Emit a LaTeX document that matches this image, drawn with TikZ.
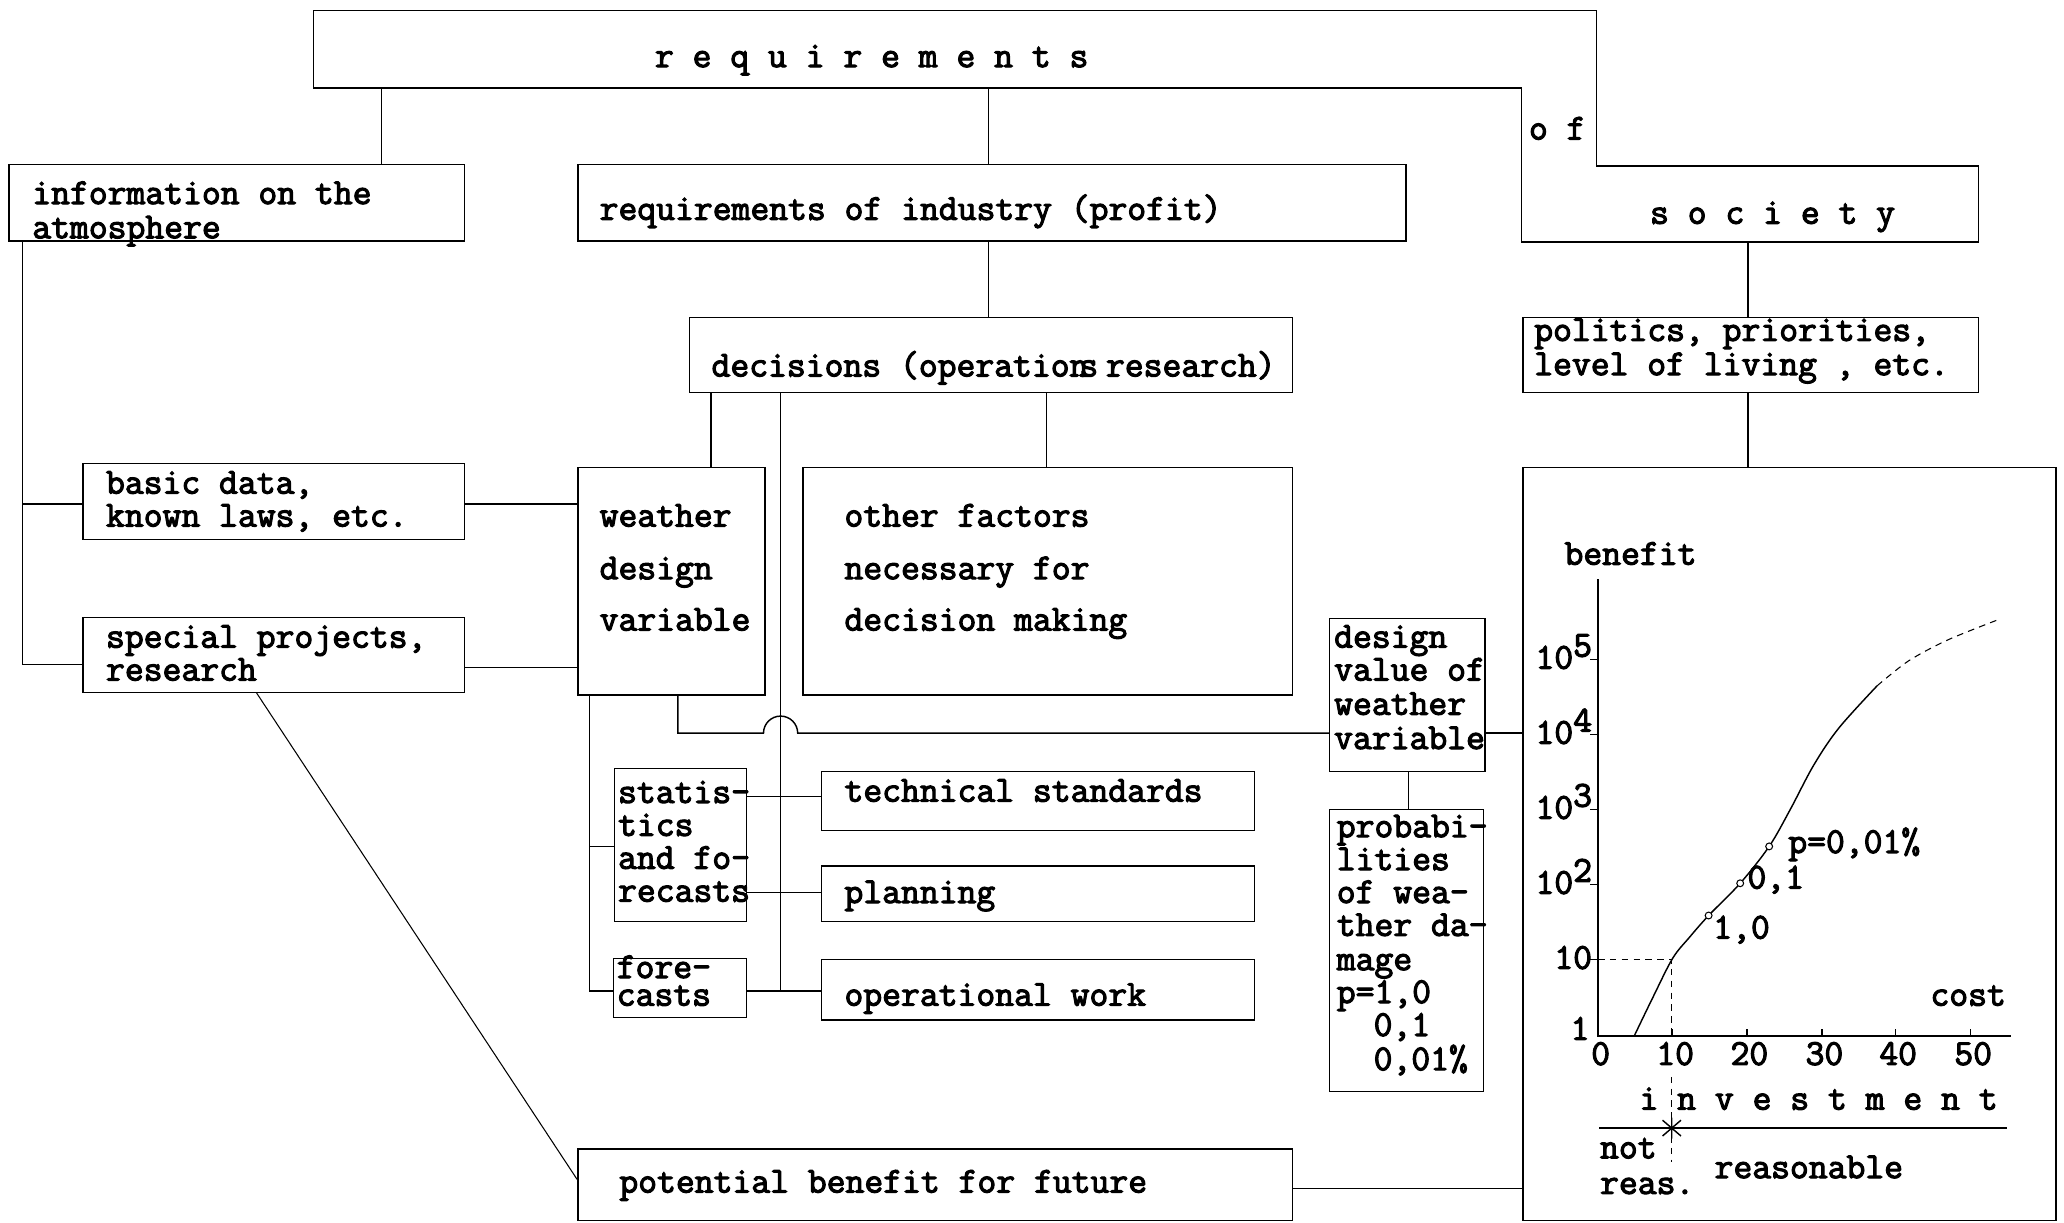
\documentclass[tikz,border=0pt]{standalone}
\usepackage{fontspec}
\newfontfamily\tw{Latin Modern Mono}[FakeBold=3]
\usetikzlibrary{fit}
\tikzset{
  box/.style={draw, inner sep=0pt},
  t/.style={anchor=base west, inner sep=0pt, font=\tw\fontsize{27.8}{25}\selectfont},
  tr/.style={t, anchor=base east},
  tc/.style={t, anchor=base},
  guide/.style={dash pattern=on 5pt off 4pt},
}
\begin{document}
\begin{tikzpicture}[x=1pt,y=-1pt,line width=1.1pt]
\useasboundingbox[fill=white] (0,0) rectangle (1568,929);

% requirements of society frame
\draw (238,8) -- (1213,8) -- (1213,126) -- (1503,126) -- (1503,184) -- (1156,184) -- (1156,67) -- (238,67) -- cycle;
\coordinate (reqband) at (238,67);
\coordinate (socbot) at (1156,184);
\node[t] (treq) at (497,51) {r e q u i r e m e n t s};
\node[t] (tof) at (1161,106) {o f};
\node[t] (tsoc) at (1253,170) {s o c i e t y};

% boxes
\node[box, fit={(7,125) (353,183)}] (info) {};
\node[box, fit={(439,125) (1068,183)}] (ind) {};
\node[box, fit={(524,241) (982,298)}] (dec) {};
\node[box, fit={(1157,241) (1503,298)}] (pol) {};
\node[box, fit={(63,352) (353,410)}] (basic) {};
\node[box, fit={(63,469) (353,526)}] (spec) {};
\node[box, fit={(439,355) (581,528)}] (wdv) {};
\node[box, fit={(610,355) (982,528)}] (oth) {};
\node[box, fit={(467,584) (567,700)}] (stat) {};
\node[box, fit={(466,728) (567,773)}] (fc) {};
\node[box, fit={(624,586) (953,631)}] (tech) {};
\node[box, fit={(624,658) (953,700)}] (plan) {};
\node[box, fit={(624,729) (953,775)}] (oper) {};
\node[box, fit={(1010,470) (1128,586)}] (dval) {};
\node[box, fit={(1010,615) (1127,829)}] (prob) {};
\node[box, fit={(439,873) (982,927)}] (pot) {};
\node[box, fit={(1157,355) (1562,927)}] (chart) {};

% texts
\node[t] (ti1) at (24,155) {information on the};
\node[t] (ti2) at (24,181) {atmosphere};
\node[t] (tind) at (455,167) {requirements of industry (profit)};
\node[t] (tdec) at (540,286) {decisions (operation\kern-.25em s\kern-.3em\ research)};
\node[t] (tp1) at (1165,259) {politics, priorities,};
\node[t] (tp2) at (1165,285) {level of living , etc.};
\node[t] (tb1) at (80,375) {basic data,};
\node[t] (tb2) at (80,400) {known laws, etc.};
\node[t] (ts1) at (80,492) {special projects,};
\node[t] (ts2) at (80,517) {research};
\node[t] (tw1) at (455,400) {weather};
\node[t] (tw2) at (455,440) {design};
\node[t] (tw3) at (455,479) {variable};
\node[t] (to1) at (641,400) {other factors};
\node[t] (to2) at (641,440) {necessary for};
\node[t] (to3) at (641,479) {decision making};
\node[t] (tst1) at (469,610) {statis-};
\node[t] (tst2) at (469,635) {tics};
\node[t] (tst3) at (469,660) {and fo-};
\node[t] (tst4) at (469,685) {recasts};
\node[t] (tf1) at (468,743) {fore-};
\node[t] (tf2) at (468,764) {casts};
\node[t] (ttech) at (641,609) {technical standards};
\node[t] (tplan) at (641,686) {planning};
\node[t] (toper) at (641,764) {operational work};
\node[t] (tdv1) at (1013,492) {design};
\node[t] (tdv2) at (1013,517) {value of};
\node[t] (tdv3) at (1013,543) {weather};
\node[t] (tdv4) at (1013,569) {variable};
\node[t] (tpr1) at (1015,636) {probabi-};
\node[t] (tpr2) at (1015,661) {lities};
\node[t] (tpr3) at (1015,686) {of wea-};
\node[t] (tpr4) at (1015,711) {ther da-};
\node[t] (tpr5) at (1015,737) {mage};
\node[t] (tpr6) at (1015,762) {p=1,0};
\node[t] (tpr7) at (1043,787) {0,1};
\node[t] (tpr8) at (1043,813) {0,01\%};
\node[t] (tpot) at (470,906) {potential benefit for future};

% connectors
\draw (reqband -| 290,0) -- (info.north -| 290,0);
\draw (reqband -| 751,0) -- (ind.north -| 751,0);
\draw (socbot -| 1328,0) -- (pol.north -| 1328,0);
\draw (ind.south -| 751,0) -- (dec.north -| 751,0);
\draw (dec.south -| 540,0) -- (wdv.north -| 540,0);
\draw (dec.south -| 795,0) -- (oth.north -| 795,0);
\draw (pol.south -| 1328,0) -- (chart.north -| 1328,0);
\draw (info.south -| 17,0) -- (17,505) -- (spec.west |- 0,505);
\draw (17,383) -- (basic.west |- 0,383);
\draw (basic.east |- 0,383) -- (wdv.west |- 0,383);
\draw (spec.east |- 0,507) -- (wdv.west |- 0,507);
\draw (wdv.south -| 515,0) -- (515,557) -- (580,557) arc[start angle=180, end angle=0, radius=13pt] -- (dval.west |- 0,557);
\draw (dval.east |- 0,557) -- (chart.west |- 0,557);
\draw (wdv.south -| 448,0) -- (448,753) -- (fc.west |- 0,753);
\draw (448,643) -- (stat.west |- 0,643);
\draw (stat.east |- 0,605) -- (tech.west |- 0,605);
\draw (stat.east |- 0,678) -- (plan.west |- 0,678);
\draw (fc.east |- 0,753) -- (oper.west |- 0,753);
\draw (dec.south -| 593,0) -- (593,753);
\draw (dval.south -| 1070,0) -- (prob.north -| 1070,0);
\draw[line width=0.8pt] (spec.south -| 195,0) -- (pot.west |- 0,896);
\draw (pot.east |- 0,903) -- (chart.west |- 0,903);

% chart
\node[t] (tben) at (1188,429) {benefit};
\draw (1214,440) -- (1214,787) -- (1528,787);
\foreach \yy/\lab in {501/{10\raisebox{.33em}{5}},558/{10\raisebox{.33em}{4}},615/{10\raisebox{.33em}{3}},672/{10\raisebox{.33em}{2}},729/{10}} {
  \draw (1208,\yy) -- (1214,\yy);
  \node[tr] at (1210,\yy+7) {\lab};
}
\node[tr] (tone) at (1208,790) {1};
\foreach \xx/\lab in {1214/0,1270.6/10,1327/20,1384/30,1440/40,1497/50} {
  \draw (\xx,782) -- (\xx,787);
  \node[tc] at (\xx+2,809) {\lab};
}
\node[t] (tcost) at (1466,764) {cost};
\draw[guide] (1214,729) -- (1270,729) -- (1270,787);
\draw[guide] (1270,818) -- (1270,883);
\draw plot[smooth, tension=0.55] coordinates {(1241.5,787) (1256,757) (1270.7,728) (1283.5,712) (1298,695.5) (1322,671) (1344,643) (1360,615) (1378,581) (1397,553) (1426,521)};
\draw[guide, line width=0.8pt] plot[smooth] coordinates {(1426,521) (1450,502) (1480,486) (1520,470)};
\foreach \p in {(1298,695.5),(1322,671),(1344,643)} \draw[fill=white, line width=0.8pt] \p circle[radius=2.6pt];
\node[t] (l1) at (1301,713) {1,0};
\node[t] (l2) at (1327,675) {0,1};
\node[t] (l3) at (1358,648) {p=0,01\%};
\node[t] (tinv) at (1245,843) {i n v e s t m e n t};
\draw (1215,857) -- (1525,857);
\draw (1270,849) -- (1270,865) (1263,851) -- (1277,863) (1263,863) -- (1277,851);
\node[t] (tnot) at (1215,880) {not};
\node[t] (treas) at (1215,907) {reas.};
\node[t] (treasonable) at (1302,895) {reasonable};
\end{tikzpicture}
\end{document}
